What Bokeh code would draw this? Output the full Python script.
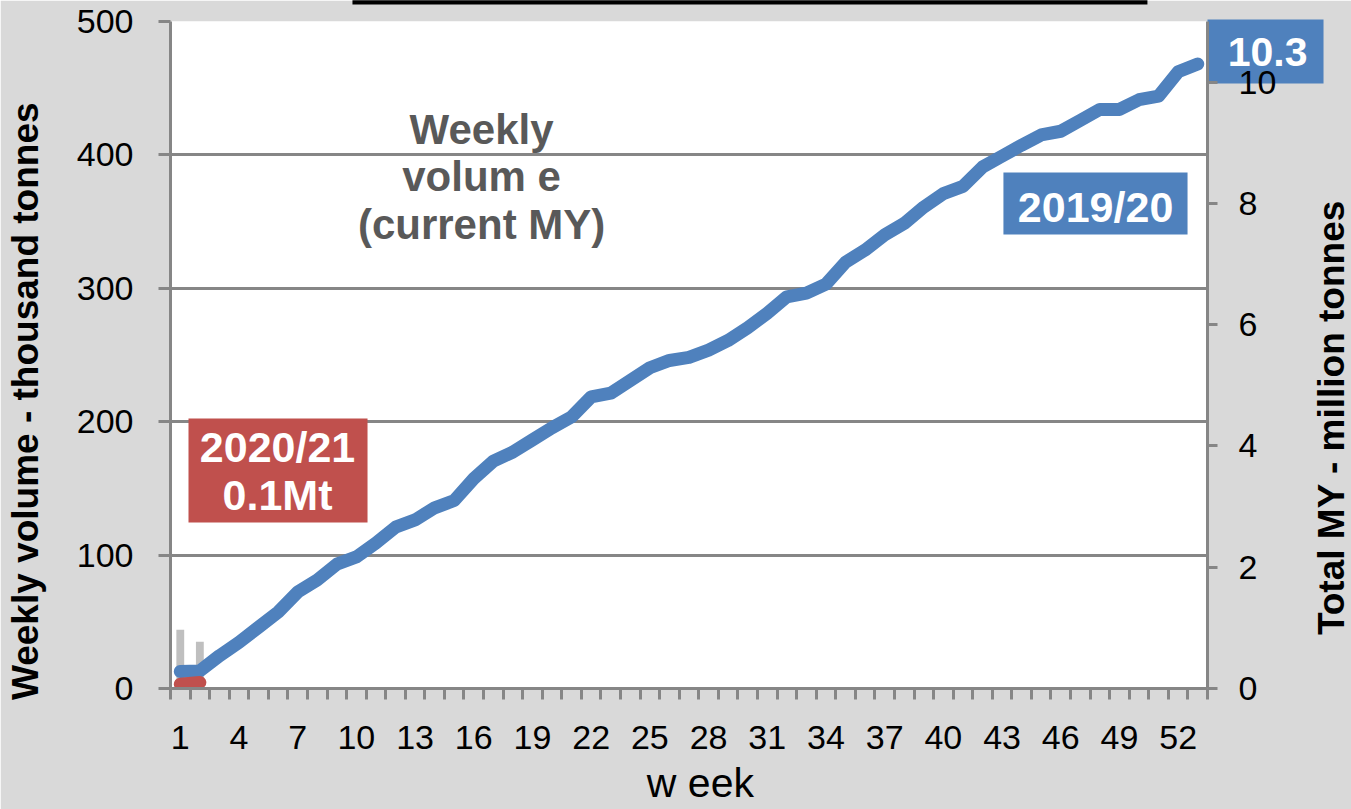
import math

from bokeh.plotting import figure
from bokeh.models import Range1d, LinearAxis, FixedTicker, BoxAnnotation, Label
from bokeh.core.properties import value
from bokeh.embed import file_html
from bokeh.resources import INLINE

# ---- data -------------------------------------------------------------
weeks = list(range(1, 54))

# cumulative shipments, marketing year 2019/20 (million tonnes)
cum_2019_20 = [
    0.28, 0.29, 0.54, 0.76, 1.01, 1.26, 1.59, 1.79, 2.05, 2.17,
    2.40, 2.66, 2.78, 2.98, 3.10, 3.46, 3.75, 3.90, 4.10, 4.30,
    4.48, 4.81, 4.87, 5.08, 5.29, 5.41, 5.46, 5.58, 5.74, 5.95,
    6.19, 6.46, 6.52, 6.67, 7.03, 7.23, 7.48, 7.67, 7.94, 8.16,
    8.28, 8.60, 8.78, 8.96, 9.13, 9.19, 9.37, 9.55, 9.55, 9.71,
    9.77, 10.17, 10.30,
]

# cumulative shipments, marketing year 2020/21 (million tonnes)
weeks_2020_21 = [1, 2]
cum_2020_21 = [0.07, 0.10]

# weekly volume, current marketing year (thousand tonnes)
weekly_current = [44, 35]

x_tick_weeks = list(range(1, 53, 3))
left_ticks = [0, 100, 200, 300, 400, 500]
right_ticks = [0, 2, 4, 6, 8, 10]

# ---- styling constants ------------------------------------------------
AXIS_GREY = "#868686"
BLUE = "#4f81bd"
RED = "#c0504d"
BAR_GREY = "#bfbfbf"
FONT = "Liberation Sans"
NBSP = "\u00a0"

p = figure(
    width=1351, height=809,
    x_range=Range1d(0.5, 53.5), y_range=Range1d(0, 500),
    output_backend="svg", toolbar_location=None,
    min_border_left=170, min_border_right=144,
    min_border_top=21, min_border_bottom=121,
    border_fill_color="#d9d9d9", background_fill_color="white",
    outline_line_color=None,
)
p.extra_y_ranges = {"total": Range1d(0, 11.0)}


def style_axis(ax):
    ax.axis_line_color = AXIS_GREY
    ax.axis_line_width = 3
    ax.major_tick_line_color = AXIS_GREY
    ax.major_tick_line_width = 3
    ax.major_tick_in = 0
    ax.minor_tick_line_color = None
    ax.major_label_text_font = FONT
    ax.major_label_text_font_size = "34px"
    ax.major_label_text_color = "black"
    ax.axis_label_text_font = FONT
    ax.axis_label_text_color = "black"


# left axis: weekly volume
ly = p.yaxis[0]
style_axis(ly)
ly.ticker = FixedTicker(ticks=left_ticks)
ly.major_tick_out = 12
ly.major_label_standoff = 25
ly.axis_label = "Weekly volume - thousand tonnes" + NBSP * 9
ly.axis_label_text_font_size = "37px"
ly.axis_label_text_font_style = "bold"
ly.axis_label_standoff = 28

# right axis: cumulative total
ry = LinearAxis(y_range_name="total", ticker=FixedTicker(ticks=right_ticks))
style_axis(ry)
ry.major_tick_out = 10
ry.major_label_standoff = 21
p.add_layout(ry, "right")

# bottom axis: week numbers at category centres, tick marks between weeks
bx = p.xaxis[0]
style_axis(bx)
bx.ticker = FixedTicker(ticks=x_tick_weeks,
                        minor_ticks=[w - 0.5 for w in weeks + [54]])
bx.major_tick_out = 0
bx.minor_tick_line_color = AXIS_GREY
bx.minor_tick_line_width = 3
bx.minor_tick_out = 11
bx.minor_tick_in = 0
bx.major_label_standoff = 26
bx.axis_label = NBSP * 2 + "w eek"
bx.axis_label_text_font_size = "41px"
bx.axis_label_text_font_style = "normal"
bx.axis_label_standoff = 8

p.xgrid.visible = False
p.ygrid.ticker = FixedTicker(ticks=left_ticks)
p.ygrid.grid_line_color = AXIS_GREY
p.ygrid.grid_line_width = 3

# ---- marks ------------------------------------------------------------
p.vbar(x=weeks_2020_21, top=weekly_current, width=0.4, bottom=0,
       fill_color=BAR_GREY, line_color=None)

p.line(weeks, cum_2019_20, y_range_name="total", line_color=BLUE,
       line_width=13, line_cap="round", line_join="round")

p.line(weeks_2020_21, cum_2020_21, y_range_name="total", line_color=RED,
       line_width=13, line_cap="round", line_join="round")

# ---- annotations ------------------------------------------------------
# bar series caption
for txt, yy in [("Weekly", 419), ("volum e", 384), ("(current MY)", 348)]:
    p.add_layout(Label(x=16.4, y=yy, text=txt, text_font=FONT,
                       text_font_style="bold", text_font_size="42px",
                       text_color="#595959", text_align="center",
                       text_baseline="alphabetic"))

# 2019/20 tag
p.add_layout(BoxAnnotation(left=43.07, right=52.48, bottom=340.3, top=386.8,
                           fill_color=BLUE, fill_alpha=1, line_color=None))
p.add_layout(Label(x=47.78, y=361.3, text="2019/20", text_font=FONT,
                   text_font_style="bold", text_font_size="43px",
                   text_color="white", text_align="center",
                   text_baseline="alphabetic"))

# 2020/21 tag
p.add_layout(BoxAnnotation(left=1.42, right=10.57, bottom=124.4, top=202.4,
                           fill_color=RED, fill_alpha=1, line_color=None))
for txt, yy in [("2020/21", 180.7), ("0.1Mt", 145.4)]:
    p.add_layout(Label(x=5.97, y=yy, text=txt, text_font=FONT,
                       text_font_style="bold", text_font_size="43px",
                       text_color="white", text_align="center",
                       text_baseline="alphabetic"))

# items in the border area are drawn as unclipped glyphs (guide/overlay level)

# final total tag beside the right axis; painted before the axes so the
# axis labels stay on top of it
p.quad(left=[53.5], right=[59.43], bottom=[453.5], top=[501.5],
       fill_color=BLUE, line_color=None, level="guide")
p.text(x=[56.57], y=[477.5], text=[f"{cum_2019_20[-1]:.1f}"],
       text_font=value(FONT), text_font_style="bold",
       text_font_size=value("41px"), text_color="white",
       text_align="center", text_baseline="middle", level="overlay")

# dark bar peeking in at the top edge
p.quad(left=[9.80], right=[50.43], bottom=[512.7], top=[516.0],
       fill_color="black", line_color=None, level="overlay")

# right axis title, reading bottom to top
p.text(x=[59.84], y=[203.1], text=["Total MY - million tonnes"],
       angle=math.pi / 2, text_font=value(FONT), text_font_style="bold",
       text_font_size=value("37px"), text_color="black",
       text_align="center", text_baseline="middle", level="overlay")

open("out.html", "w").write(file_html(p, INLINE))
